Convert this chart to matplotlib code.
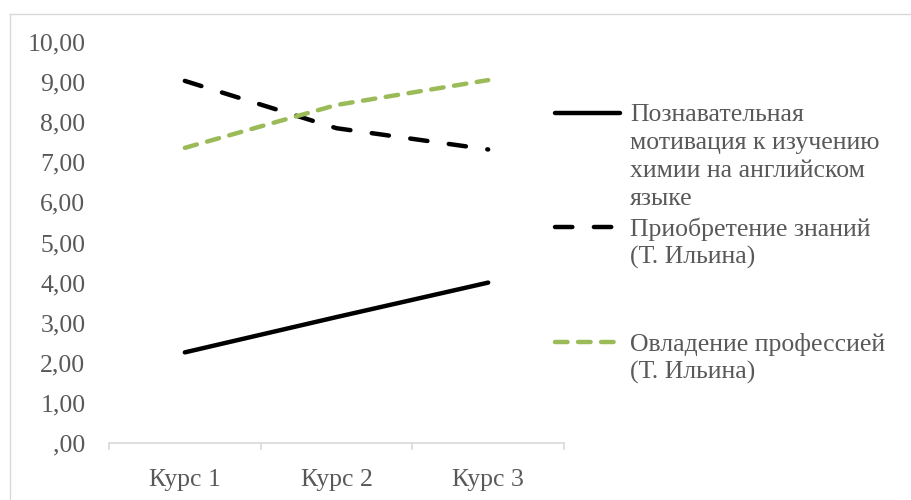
import matplotlib
matplotlib.use("Agg")
import matplotlib.pyplot as plt
from matplotlib.lines import Line2D

# data
categories = ["Курс 1", "Курс 2", "Курс 3"]
motivation = [2.26, 3.14, 4.00]
knowledge = [9.03, 7.85, 7.32]
profession = [7.36, 8.43, 9.05]
series_labels = [
    "Познавательная\nмотивация к изучению\nхимии на английском\nязыке",
    "Приобретение знаний\n(Т. Ильина)",
    "Овладение профессией\n(Т. Ильина)",
]

W, H = 911, 500
GREEN = "#9bbb59"
TXT = "#595959"
FS = 18.5

plt.rcParams["font.family"] = ["Liberation Serif", "DejaVu Serif"]
plt.rcParams["lines.scale_dashes"] = False

fig = plt.figure(figsize=(W / 100, H / 100), dpi=100)
ax = fig.add_axes([109 / W, 1 - 443 / H, (564 - 109) / W, (443 - 42) / H])

styles = [
    dict(color="black", lw=3.2, ls="-"),
    dict(color="black", lw=3.2, ls=(0, (12.5, 15.5))),
    dict(color=GREEN, lw=3.2, ls=(0, (9, 7.6))),
]
x = list(range(1, len(categories) + 1))
for vals, st in zip([motivation, knowledge, profession], styles):
    ax.plot(x, vals, solid_capstyle="round", dash_capstyle="round", **st)

ax.set_xlim(0.5, len(categories) + 0.5)
ax.set_ylim(0, 10)
ax.set_yticks(range(0, 11))
ax.set_yticklabels([(f"{v},00" if v else ",00") for v in range(0, 11)])
ax.set_xticks(x)
ax.set_xticklabels(categories)
ax.set_xticks([i + 0.5 for i in range(0, len(categories) + 1)], minor=True)
ax.tick_params(axis="y", length=0, pad=17, labelsize=FS, labelcolor=TXT)
ax.tick_params(axis="x", which="major", length=0, pad=19, labelsize=FS, labelcolor=TXT)
ax.tick_params(axis="x", which="minor", length=5, width=1.2, color="#d9d9d9")
for s in ("top", "right", "left"):
    ax.spines[s].set_visible(False)
ax.spines["bottom"].set_color("#d9d9d9")
ax.spines["bottom"].set_linewidth(1.2)

# legend drawn by hand, Excel-style (handle aligned with first text line)
handle_y = [113, 227, 342]
for label, st, hy in zip(series_labels, styles, handle_y):
    fy = 1 - hy / H
    fig.add_artist(Line2D([555 / W, 620 / W], [fy, fy], transform=fig.transFigure,
                          solid_capstyle="round", dash_capstyle="round", **st))
    for k, line in enumerate(label.split("\n")):
        fig.text(630 / W, 1 - (hy + 2 + 28 * k) / H, line, fontsize=FS,
                 color=TXT, va="center", ha="left")

# chart border (only left and top edges fall inside the image)
border = dict(color="#d9d9d9", lw=1, transform=fig.transFigure)
fig.add_artist(Line2D([9.5 / W, 9.5 / W], [0, 1 - 13.5 / H], **border))
fig.add_artist(Line2D([9.5 / W, 1], [1 - 13.5 / H, 1 - 13.5 / H], **border))

fig.savefig("out.png", dpi=100)
